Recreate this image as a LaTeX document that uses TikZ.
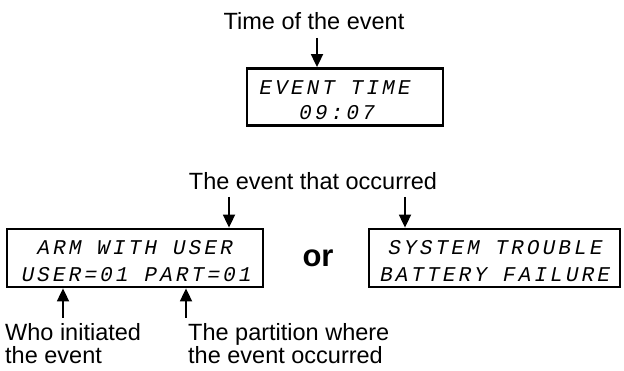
\documentclass[tikz,border=0pt]{standalone}
\usepackage{fontspec}
\setmainfont{Liberation Sans}
\newfontfamily\lcdfont[FakeSlant=0.2,LetterSpace=15]{Liberation Mono}
\usetikzlibrary{arrows.meta}
\begin{document}
\begin{tikzpicture}[x=1pt,y=-1pt,
  lbl/.style={font=\fontsize{23.5}{23}\selectfont, inner sep=0pt, align=left},
  lcdbox/.style={draw, line width=2.8pt, inner sep=0pt},
  lcdtxt/.style={font=\lcdfont\fontsize{21}{21}\selectfont, inner sep=0pt},
  arr/.style={line width=1.8pt, -{Triangle[width=12pt,length=13pt]}},
]
\useasboundingbox (0,0) rectangle (624,371);

% top part
\node[lbl, anchor=base] (t1) at (314,30) {Time of the event};
\node[lcdbox, minimum width=196pt, minimum height=57pt] (box1) at (345,97) {};
\node[lcdtxt] (l1a) at (334,87.5) {EVENT TIME};
\node[lcdtxt] (l1b) at (336,113) {09:07};
\coordinate (a1) at (317,38);
\draw[arr] (a1) -- (a1 |- box1.north);

% middle part
\node[lbl, anchor=base] (t2) at (313,190) {The event that occurred};
\node[lcdbox, minimum width=256pt, minimum height=58pt] (box2) at (135,258) {};
\node[lcdbox, minimum width=251pt, minimum height=58pt] (box3) at (494.5,258) {};
\node[lcdtxt] (l2a) at (134,248) {ARM WITH USER};
\node[lcdtxt] (l2b) at (135.5,275) {USER=01 PART=01};
\node[lcdtxt] (l3a) at (494.5,248) {SYSTEM TROUBLE};
\node[lcdtxt] (l3b) at (494,275) {BATTERY FAILURE};
\node[font=\fontsize{31}{31}\selectfont\bfseries, inner sep=0pt, anchor=base] (or) at (318,267) {or};
\coordinate (e1) at (229,197);
\coordinate (e2) at (405,197);
\draw[arr] (e1) -- (e1 |- box2.north);
\draw[arr] (e2) -- (e2 |- box3.north);

% bottom part
\coordinate (u1) at (63,318);
\coordinate (u2) at (186,318);
\draw[arr] (u1) -- (u1 |- box2.south);
\draw[arr] (u2) -- (u2 |- box2.south);
\node[lbl, anchor=north west] (w1) at (5,323.5) {Who initiated\\the event};
\node[lbl, anchor=north west] (w2) at (188,323.5) {The partition where\\the event occurred};
\end{tikzpicture}
\end{document}
